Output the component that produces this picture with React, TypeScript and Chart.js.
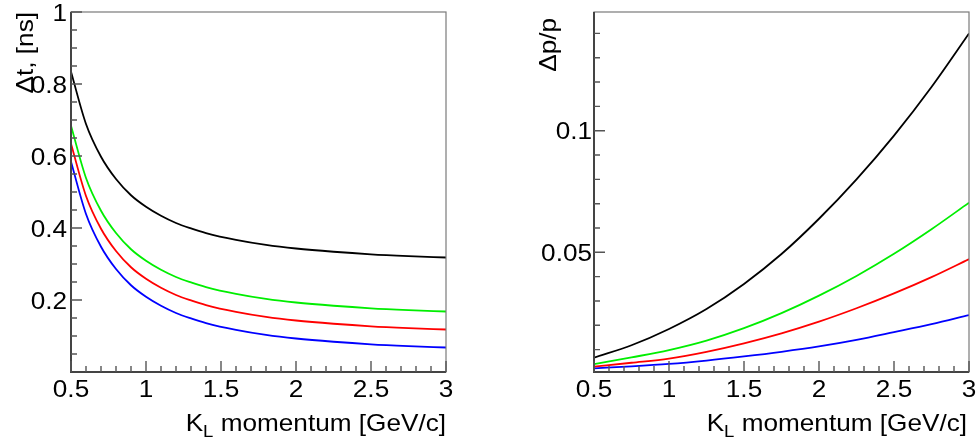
import React, { useEffect, useRef } from "react";
import { Chart, registerables } from "chart.js";

Chart.register(...registerables);

// ---------- data ----------
const momentumLeft = [0.5, 0.6, 0.7, 0.8, 0.9, 1.0, 1.1, 1.2, 1.3, 1.4, 1.6, 1.8, 2.0, 2.25, 2.5, 2.75, 3.0];
const dtBlack = [0.834, 0.689, 0.598, 0.536, 0.491, 0.459, 0.434, 0.414, 0.399, 0.386, 0.367, 0.353, 0.343, 0.334, 0.327, 0.322, 0.318];
const dtGreen = [0.684, 0.539, 0.448, 0.386, 0.341, 0.309, 0.284, 0.264, 0.249, 0.236, 0.217, 0.203, 0.193, 0.184, 0.177, 0.172, 0.168];
const dtRed = [0.634, 0.489, 0.398, 0.336, 0.291, 0.259, 0.234, 0.214, 0.199, 0.186, 0.167, 0.153, 0.143, 0.134, 0.127, 0.122, 0.118];
const dtBlue = [0.584, 0.439, 0.348, 0.286, 0.241, 0.209, 0.184, 0.164, 0.149, 0.136, 0.117, 0.103, 0.093, 0.084, 0.077, 0.072, 0.068];

const momentumRight = [0.5, 0.75, 1.0, 1.25, 1.5, 1.75, 2.0, 2.25, 2.5, 2.75, 3.0];
const dpBlack = [0.0067, 0.0118, 0.0185, 0.0267, 0.037, 0.0493, 0.0638, 0.08, 0.098, 0.118, 0.14];
const dpGreen = [0.004, 0.0068, 0.0098, 0.0137, 0.0188, 0.025, 0.0322, 0.0403, 0.0494, 0.0595, 0.0704];
const dpRed = [0.003, 0.0046, 0.0063, 0.0091, 0.0126, 0.0167, 0.0215, 0.027, 0.0331, 0.0398, 0.0472];
const dpBlue = [0.0023, 0.0031, 0.0041, 0.0055, 0.0072, 0.0091, 0.0113, 0.014, 0.0172, 0.0205, 0.0242];

const xTickValues = [0.5, 1, 1.5, 2, 2.5, 3];
const xTickLabels = ["0.5", "1", "1.5", "2", "2.5", "3"];
const leftYTickValues = [0.2, 0.4, 0.6, 0.8, 1.0];
const leftYTickLabels = ["0.2", "0.4", "0.6", "0.8", "1"];
const rightYTickValues = [0.05, 0.1];
const rightYTickLabels = ["0.05", "0.1"];

const xTitleMain = "K";
const xTitleSub = "L";
const xTitleRest = " momentum [GeV/c]";
const leftYTitle = "Δt, [ns]";
const rightYTitle = "Δp/p";

const seriesColors = ["#000000", "#00ee00", "#ff0000", "#0000ff"];

const FONT = "'Liberation Sans', Arial, Helvetica, sans-serif";
const STRETCH = 1.09;

function range(start: number, end: number, step: number) {
  const out: number[] = [];
  for (let v = start; v <= end + step * 1e-6; v += step) out.push(Math.round(v * 1e6) / 1e6);
  return out;
}

type PanelCfg = {
  xs: number[];
  series: number[][];
  yMin: number;
  yMax: number;
  yTicks: number[];
  yLabels: string[];
  yMajorTicks: number[];
  yMinorTicks: number[];
  yTitle: string;
  yTitleX: number;
  yTitleY: number;
  yAxisWidth: number;
  yLabelRight: number;
  padRight: number;
  xTitleRight: number;
};

function stretchedText(ctx: any, text: string, x: number, y: number, align: string) {
  ctx.save();
  ctx.translate(x, y);
  ctx.scale(STRETCH, 1);
  ctx.textAlign = align;
  ctx.fillText(text, 0, 0);
  ctx.restore();
}

function makePlugin(cfg: PanelCfg) {
  return {
    id: "rootStyle",
    afterDraw(chart: any) {
      const { ctx, chartArea: a, scales } = chart;
      const xs = scales.x;
      const ys = scales.y;
      ctx.save();
      // frame
      ctx.strokeStyle = "#7a7a7a";
      ctx.lineWidth = 1.2;
      ctx.strokeRect(a.left, a.top, a.right - a.left, a.bottom - a.top);
      // axes
      ctx.strokeStyle = "#444";
      ctx.lineWidth = 2;
      ctx.beginPath();
      ctx.moveTo(a.left, a.top);
      ctx.lineTo(a.left, a.bottom);
      ctx.lineTo(a.right, a.bottom);
      ctx.stroke();
      // ticks
      ctx.strokeStyle = "#555";
      ctx.lineWidth = 1.4;
      ctx.beginPath();
      const xMinor = range(0.5, 3, 0.1);
      xMinor.forEach((v) => {
        const px = xs.getPixelForValue(v);
        const major = xTickValues.some((t) => Math.abs(t - v) < 1e-6);
        const len = major ? 11 : 6;
        ctx.moveTo(px, a.bottom);
        ctx.lineTo(px, a.bottom - len);
      });
      cfg.yMinorTicks.forEach((v) => {
        const py = ys.getPixelForValue(v);
        const major = cfg.yMajorTicks.some((t) => Math.abs(t - v) < 1e-6);
        const len = major ? 11 : 6;
        ctx.moveTo(a.left, py);
        ctx.lineTo(a.left + len, py);
      });
      ctx.stroke();

      const mainFont = `24px ${FONT}`;
      const subFont = `17px ${FONT}`;
      ctx.fillStyle = "#000";
      ctx.textBaseline = "alphabetic";
      ctx.font = mainFont;

      // tick labels
      xTickValues.forEach((v, i) => {
        stretchedText(ctx, xTickLabels[i], xs.getPixelForValue(v), a.bottom + 25, "center");
      });
      cfg.yTicks.forEach((v, i) => {
        stretchedText(ctx, cfg.yLabels[i], cfg.yLabelRight, ys.getPixelForValue(v) + 8.5, "right");
      });

      // x title
      ctx.font = mainFont;
      const wMain = ctx.measureText(xTitleMain).width * STRETCH;
      const wRest = ctx.measureText(xTitleRest).width * STRETCH;
      ctx.font = subFont;
      const wSub = ctx.measureText(xTitleSub).width * STRETCH;
      const total = wMain + wSub + wRest;
      let x0 = cfg.xTitleRight - total;
      const base = 431;
      ctx.font = mainFont;
      stretchedText(ctx, xTitleMain, x0, base, "left");
      x0 += wMain;
      ctx.font = subFont;
      stretchedText(ctx, xTitleSub, x0, base + 6, "left");
      x0 += wSub;
      ctx.font = mainFont;
      stretchedText(ctx, xTitleRest, x0, base, "left");

      // y title
      ctx.save();
      ctx.translate(cfg.yTitleX, cfg.yTitleY);
      ctx.rotate(-Math.PI / 2);
      ctx.scale(STRETCH, 1);
      ctx.textAlign = "right";
      ctx.font = mainFont;
      ctx.fillText(cfg.yTitle, 0, 0);
      ctx.restore();

      ctx.restore();
    },
  };
}

function Panel({ cfg, width, left }: { cfg: PanelCfg; width: number; left: number }) {
  const ref = useRef<HTMLCanvasElement | null>(null);
  useEffect(() => {
    if (!ref.current) return;
    const chart = new Chart(ref.current, {
      type: "line",
      data: {
        datasets: cfg.series.map((s, i) => ({
          data: s.map((y, j) => ({ x: cfg.xs[j], y })),
          borderColor: seriesColors[i],
          borderWidth: 1.8,
          pointRadius: 0,
          fill: false,
          cubicInterpolationMode: "monotone" as const,
        })),
      },
      options: {
        animation: false,
        responsive: false,
        maintainAspectRatio: false,
        layout: { padding: { top: 12, right: cfg.padRight, bottom: 0, left: 0 } },
        plugins: { legend: { display: false }, tooltip: { enabled: false }, title: { display: false } },
        events: [],
        scales: {
          x: {
            type: "linear",
            min: 0.5,
            max: 3,
            grid: { display: false, drawTicks: false },
            border: { display: false },
            afterBuildTicks: (scale: any) => {
              scale.ticks = xTickValues.map((v) => ({ value: v }));
            },
            afterFit: (scale: any) => {
              scale.height = 73;
            },
            ticks: { display: false },
          },
          y: {
            type: "linear",
            min: cfg.yMin,
            max: cfg.yMax,
            grid: { display: false, drawTicks: false },
            border: { display: false },
            afterBuildTicks: (scale: any) => {
              scale.ticks = cfg.yTicks.map((v) => ({ value: v }));
            },
            afterFit: (scale: any) => {
              scale.width = cfg.yAxisWidth;
            },
            ticks: { display: false },
          },
        },
      },
      plugins: [makePlugin(cfg)],
    } as any);
    return () => chart.destroy();
  }, []);
  return (
    <canvas
      ref={ref}
      width={width}
      height={445}
      style={{ position: "absolute", left, top: 0, width, height: 445 }}
    />
  );
}

export default function App() {
  const leftCfg: PanelCfg = {
    xs: momentumLeft,
    series: [dtBlack, dtGreen, dtRed, dtBlue],
    yMin: 0,
    yMax: 1,
    yTicks: leftYTickValues,
    yLabels: leftYTickLabels,
    yMajorTicks: leftYTickValues,
    yMinorTicks: range(0.05, 1, 0.05),
    yTitle: leftYTitle,
    yTitleX: 33,
    yTitleY: 12,
    yAxisWidth: 71,
    yLabelRight: 67,
    padRight: 42,
    xTitleRight: 446,
  };
  const rightCfg: PanelCfg = {
    xs: momentumRight,
    series: [dpBlack, dpGreen, dpRed, dpBlue],
    yMin: 0.0008,
    yMax: 0.1488,
    yTicks: rightYTickValues,
    yLabels: rightYTickLabels,
    yMajorTicks: rightYTickValues,
    yMinorTicks: range(0.01, 0.14, 0.01),
    yTitle: rightYTitle,
    yTitleX: 68,
    yTitleY: 18,
    yAxisWidth: 106,
    yLabelRight: 104,
    padRight: 8,
    xTitleRight: 479,
  };
  return (
    <div style={{ position: "absolute", left: 0, top: 0, width: 977, height: 445, background: "#fff" }}>
      <Panel cfg={leftCfg} width={488} left={0} />
      <Panel cfg={rightCfg} width={489} left={488} />
    </div>
  );
}
